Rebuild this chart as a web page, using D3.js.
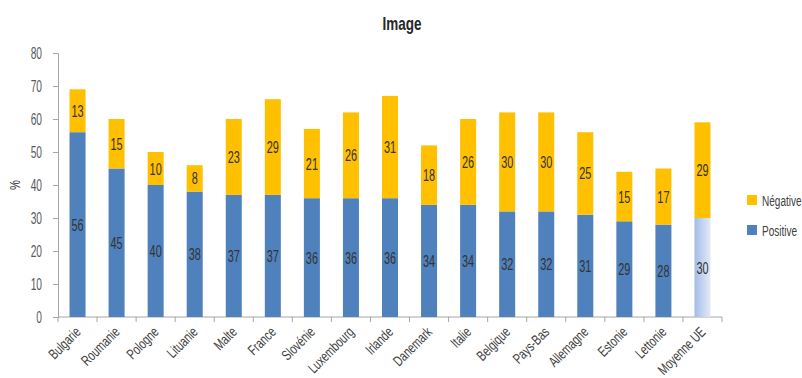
<!DOCTYPE html>
<html>
<head>
<meta charset="utf-8">
<script src="https://cdn.jsdelivr.net/npm/d3@7"></script>
<style>
  body { margin: 0; background: #fff; }
  svg text { font-family: "Liberation Sans", "Arial", sans-serif; }
</style>
</head>
<body>
<svg id="chart" width="802" height="378"></svg>
<script>
const categories = ["Bulgarie", "Roumanie", "Pologne", "Lituanie", "Malte", "France", "Slovénie",
  "Luxembourg", "Irlande", "Danemark", "Italie", "Belgique", "Pays-Bas", "Allemagne",
  "Estonie", "Lettonie", "Moyenne UE"];
const positive = [56, 45, 40, 38, 37, 37, 36, 36, 36, 34, 34, 32, 32, 31, 29, 28, 30];
const negative = [13, 15, 10, 8, 23, 29, 21, 26, 31, 18, 26, 30, 30, 25, 15, 17, 29];
const yTicks = [0, 10, 20, 30, 40, 50, 60, 70, 80];
const seriesNames = ["Négative", "Positive"];

const svg = d3.select("#chart");
const W = 802, H = 378;
const plotLeft = 58, plotRight = 722, plotTop = 53, plotBottom = 317;
const SX = 0.66; // horizontal squeeze for the narrow lettering

const x = d3.scaleBand().domain(categories).range([plotLeft, plotRight]).paddingInner(0.59).paddingOuter(0.295);
const y = d3.scaleLinear().domain([0, 80]).range([plotBottom, plotTop]);

const defs = svg.append("defs");
const grad = defs.append("linearGradient").attr("id", "avgGrad").attr("x1", "0").attr("x2", "1").attr("y1", "0").attr("y2", "0");
grad.append("stop").attr("offset", "0%").attr("stop-color", "#a4bce6");
grad.append("stop").attr("offset", "100%").attr("stop-color", "#e3eaf7");

// narrow text helper: anchor point, optional rotation, squeezed horizontally
function narrowText(g, tx, ty, str, opts) {
  const o = Object.assign({ size: 16, anchor: "middle", rotate: 0, sx: SX, fill: "#404040", weight: "normal" }, opts);
  return g.append("text")
    .attr("transform", `translate(${tx},${ty}) rotate(${o.rotate}) scale(${o.sx},1)`)
    .attr("text-anchor", o.anchor).attr("font-size", o.size).attr("font-weight", o.weight)
    .attr("fill", o.fill).text(str);
}

// Title
narrowText(svg, 402, 30, "Image", { size: 18, weight: "bold", sx: 0.75, fill: "#262626" });

// Y axis
const yAxis = d3.axisLeft(y).tickValues(yTicks).tickSize(5).tickPadding(8);
const gy = svg.append("g").attr("transform", `translate(${plotLeft},0)`).call(yAxis);
gy.select(".domain").attr("stroke", "#a6a6a6");
gy.selectAll(".tick line").attr("stroke", "#a6a6a6");
gy.selectAll(".tick text").attr("font-size", 16.5).attr("fill", "#595959")
  .attr("x", -16 / 0.62).attr("dy", "0.36em").attr("transform", "scale(0.62,1)");

narrowText(svg, 20, 185, "%", { size: 14, rotate: -90, sx: 0.8 });

// X axis with ticks between categories
const y0 = y(0);
const gx = svg.append("g");
gx.append("line").attr("x1", plotLeft).attr("x2", plotRight).attr("y1", y0).attr("y2", y0).attr("stroke", "#a6a6a6");
const bounds = d3.range(categories.length + 1).map(i => plotLeft + i * x.step());
gx.selectAll("line.tk").data(bounds).join("line").attr("class", "tk")
  .attr("x1", d => d).attr("x2", d => d).attr("y1", y0).attr("y2", y0 + 5).attr("stroke", "#a6a6a6");
categories.forEach(c => {
  narrowText(gx, x(c) + x.bandwidth() / 2 + 4, y0 + 16, c, { size: 14.5, anchor: "end", rotate: -45, sx: 0.72 });
});

// Bars
const rows = categories.map((c, i) => ({ c, p: positive[i], n: negative[i], avg: i === categories.length - 1 }));
const bars = svg.append("g");
bars.selectAll("rect.pos").data(rows).join("rect").attr("class", "pos")
  .attr("x", d => x(d.c)).attr("width", x.bandwidth())
  .attr("y", d => y(d.p)).attr("height", d => y(0) - y(d.p))
  .attr("fill", d => d.avg ? "url(#avgGrad)" : "#4f81bd");
bars.selectAll("rect.neg").data(rows).join("rect").attr("class", "neg")
  .attr("x", d => x(d.c)).attr("width", x.bandwidth())
  .attr("y", d => y(d.p + d.n)).attr("height", d => y(d.p) - y(d.p + d.n))
  .attr("fill", "#ffc000");

// Value labels
const lbl = svg.append("g");
rows.forEach(d => {
  const cx = x(d.c) + x.bandwidth() / 2;
  narrowText(lbl, cx, y(d.p / 2) + 6, d.p, { size: 16.5, fill: "#333" });
  narrowText(lbl, cx, y(d.p + d.n / 2) + 6, d.n, { size: 16.5, fill: "#333" });
});

// Legend
const legColors = ["#ffc000", "#4f81bd"];
const leg = svg.append("g").attr("transform", "translate(747,195)");
seriesNames.forEach((s, i) => {
  leg.append("rect").attr("x", 0).attr("y", i * 30).attr("width", 10).attr("height", 10).attr("fill", legColors[i]);
  narrowText(leg, 15, i * 30 + 11, s, { size: 15, anchor: "start", sx: 0.67 });
});
</script>
</body>
</html>
